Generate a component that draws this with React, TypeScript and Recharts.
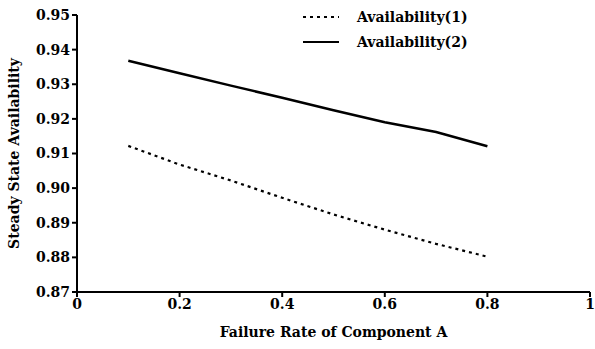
import { LineChart, Line, XAxis, YAxis, Legend } from "recharts";

const failureRate = [0.1, 0.2, 0.3, 0.4, 0.5, 0.6, 0.7, 0.8];
const availability1 = [0.9122, 0.9068, 0.9022, 0.8972, 0.8924, 0.888, 0.8839, 0.8802];
const availability2 = [0.9368, 0.9332, 0.9296, 0.9261, 0.9225, 0.919, 0.9162, 0.9121];
const xTicks = [0, 0.2, 0.4, 0.6, 0.8, 1];
const yTicks = [0.87, 0.88, 0.89, 0.9, 0.91, 0.92, 0.93, 0.94, 0.95];

const data = failureRate.map((x, i) => ({ x, a1: availability1[i], a2: availability2[i] }));

const font = "DejaVu Serif";
const tickStyle = { fill: "#000", fontSize: 14, fontWeight: 700, fontFamily: font };

const LegendBox = (props: any) => (
  <div style={{ fontFamily: font, fontWeight: 700, fontSize: 14, color: "#000" }}>
    {props.payload.map((p: any) => (
      <div key={p.value} style={{ display: "flex", alignItems: "center", height: 25 }}>
        <svg width={40} height={10} style={{ marginRight: 14 }}>
          <line x1={0} y1={5} x2={36} y2={5} stroke="#000" strokeWidth={2.2}
            strokeDasharray={p.payload.strokeDasharray} />
        </svg>
        {p.value}
      </div>
    ))}
  </div>
);

export default function App() {
  return (
    <div style={{ position: "absolute", left: 0, top: 0, background: "#fff", fontFamily: font }}>
      <LineChart width={595} height={349} data={data} margin={{ top: 15, right: 5, left: 0, bottom: 0 }}>
        <XAxis dataKey="x" type="number" domain={[0, 1]} ticks={xTicks} height={57}
          tickFormatter={(v: number) => String(v)} stroke="#000" strokeWidth={2} tickSize={5}
          tick={tickStyle} interval={0}
          label={{ value: "Failure Rate of Component A", position: "insideBottom", offset: 12, style: { ...tickStyle, textAnchor: "middle" } }} />
        <YAxis type="number" domain={[0.87, 0.95]} ticks={yTicks} width={77}
          tickFormatter={(v: number) => v.toFixed(2)} stroke="#000" strokeWidth={2} tickSize={5}
          tick={tickStyle} interval={0}
          label={{ value: "Steady State Availability", angle: -90, position: "insideLeft", offset: 14, style: { ...tickStyle, textAnchor: "middle" } }} />
        <Legend layout="vertical" align="center" verticalAlign="middle" content={LegendBox}
          wrapperStyle={{ left: 303, top: 4, width: 200 }} />
        <Line dataKey="a1" name="Availability(1)" stroke="#000" strokeWidth={2.2} strokeDasharray="3 4"
          dot={false} isAnimationActive={false} type="linear" />
        <Line dataKey="a2" name="Availability(2)" stroke="#000" strokeWidth={2.5}
          dot={false} isAnimationActive={false} type="linear" />
      </LineChart>
    </div>
  );
}
